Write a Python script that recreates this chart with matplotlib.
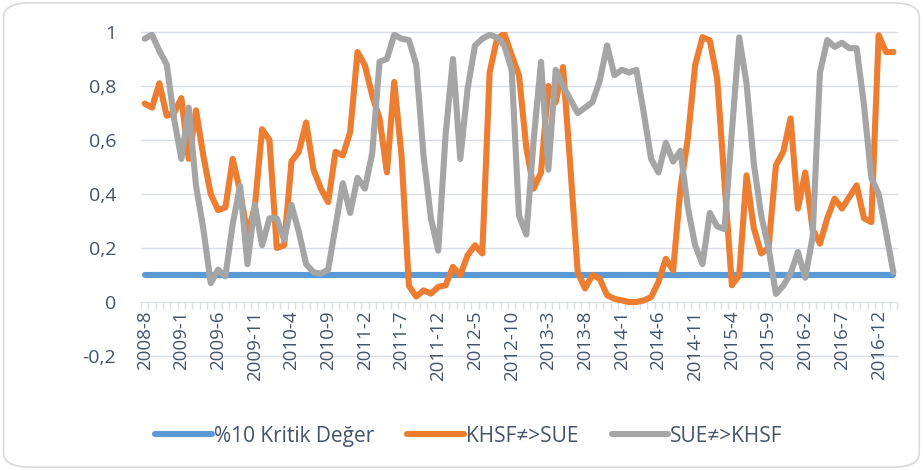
import matplotlib
matplotlib.use("Agg")
import matplotlib.pyplot as plt
from matplotlib.patches import FancyBboxPatch
from matplotlib.ticker import FixedLocator, FuncFormatter

# monthly labels 2008-8 ... 2017-2
months = []
year, month = 2008, 8
while (year, month) <= (2017, 2):
    months.append(f"{year}-{month}")
    month += 1
    if month > 12:
        month = 1
        year += 1

khsf_sue = [
    0.735, 0.72, 0.81, 0.69, 0.70, 0.755, 0.53, 0.71, 0.54, 0.40,
    0.34, 0.35, 0.53, 0.41, 0.25, 0.35, 0.64, 0.60, 0.20, 0.21,
    0.52, 0.556, 0.665, 0.49, 0.42, 0.37, 0.556, 0.543, 0.63, 0.926,
    0.877, 0.765, 0.68, 0.48, 0.815, 0.54, 0.06, 0.02, 0.043, 0.031,
    0.056, 0.062, 0.13, 0.10, 0.173, 0.21, 0.18, 0.85, 0.975, 0.994,
    0.914, 0.84, 0.57, 0.42, 0.48, 0.80, 0.74, 0.87, 0.50, 0.11,
    0.05, 0.10, 0.086, 0.025, 0.012, 0.006, 0.0, 0.0, 0.006, 0.018,
    0.074, 0.16, 0.117, 0.42, 0.605, 0.877, 0.981, 0.969, 0.827, 0.444,
    0.062, 0.099, 0.469, 0.272, 0.18, 0.20, 0.506, 0.556, 0.68, 0.346,
    0.48, 0.27, 0.216, 0.31, 0.383, 0.346, 0.389, 0.432, 0.31, 0.296,
    0.988, 0.926, 0.926,
]

sue_khsf = [
    0.975, 0.99, 0.93, 0.88, 0.68, 0.53, 0.72, 0.43, 0.27, 0.07,
    0.12, 0.095, 0.29, 0.43, 0.14, 0.36, 0.21, 0.31, 0.31, 0.23,
    0.36, 0.26, 0.14, 0.11, 0.105, 0.12, 0.28, 0.44, 0.33, 0.46,
    0.42, 0.55, 0.89, 0.90, 0.99, 0.975, 0.97, 0.88, 0.54, 0.31,
    0.19, 0.62, 0.90, 0.53, 0.79, 0.95, 0.975, 0.99, 0.98, 0.95,
    0.86, 0.32, 0.25, 0.60, 0.89, 0.49, 0.86, 0.80, 0.75, 0.70,
    0.72, 0.74, 0.82, 0.95, 0.84, 0.86, 0.85, 0.86, 0.70, 0.53,
    0.48, 0.59, 0.52, 0.56, 0.35, 0.21, 0.14, 0.33, 0.28, 0.27,
    0.63, 0.98, 0.81, 0.51, 0.32, 0.20, 0.03, 0.06, 0.105, 0.185,
    0.09, 0.24, 0.85, 0.97, 0.945, 0.96, 0.94, 0.94, 0.73, 0.46,
    0.40, 0.26, 0.11,
]

critical = [0.1] * len(months)

text_color = "#44546A"
grid_color = "#D9DEE6"
plt.rcParams["font.family"] = ["Open Sans", "DejaVu Sans"]

fig = plt.figure(figsize=(9.23, 4.70), dpi=100)
fig.patch.set_facecolor("white")

# rounded chart border
border = FancyBboxPatch((0.004, 0.006), 0.992, 0.988,
                        boxstyle="round,pad=0,rounding_size=0.03",
                        transform=fig.transFigure, facecolor="none",
                        edgecolor="#D9D9D9", linewidth=1.2, zorder=-10)
fig.patches.append(border)

ax = fig.add_axes([141 / 923, 1 - 356 / 470, 756 / 923, 324 / 470])
ax.set_facecolor("none")

x = list(range(len(months)))
lw = 4.4
ax.plot(x, critical, color="#5B9BD5", lw=lw, solid_capstyle="round",
        label="%10 Kritik Değer", zorder=3)
ax.plot(x, khsf_sue, color="#ED7D31", lw=lw, solid_capstyle="round",
        solid_joinstyle="round", label="KHSF≠>SUE", zorder=4)
ax.plot(x, sue_khsf, color="#A5A5A5", lw=lw, solid_capstyle="round",
        solid_joinstyle="round", label="SUE≠>KHSF", zorder=5)

ax.set_xlim(-0.5, len(months) - 0.5)
ax.set_ylim(-0.2, 1.0)

yt = [-0.2, 0, 0.2, 0.4, 0.6, 0.8, 1.0]
ax.set_yticks(yt)
ax.yaxis.set_major_formatter(FuncFormatter(
    lambda v, p: ("%g" % round(v, 1)).replace(".", ",")))
ax.tick_params(axis="y", length=0, pad=18, labelsize=14, labelcolor=text_color)
for v in yt:
    if v != 0:
        ax.axhline(v, color=grid_color, lw=1, zorder=1, clip_on=False)

for s in ["left", "right", "top"]:
    ax.spines[s].set_visible(False)
ax.spines["bottom"].set_position(("data", 0))
ax.spines["bottom"].set_color(grid_color)
ax.spines["bottom"].set_zorder(1)

ax.xaxis.set_major_locator(FixedLocator(x[::5]))
ax.set_xticklabels(months[::5])
ax.xaxis.set_minor_locator(FixedLocator([i - 0.5 for i in range(len(months) + 1)]))
ax.tick_params(axis="x", which="major", length=0, pad=6, labelsize=13.5,
               labelcolor=text_color, labelrotation=90)
ax.tick_params(axis="x", which="minor", length=5, width=1, color=grid_color)

fig.legend(loc="center", bbox_to_anchor=(0.508, 0.072), ncol=3, frameon=False,
           fontsize=15, labelcolor=text_color, handlelength=2.7,
           handletextpad=0.1, columnspacing=1.6)

fig.savefig("out.png", dpi=100)
